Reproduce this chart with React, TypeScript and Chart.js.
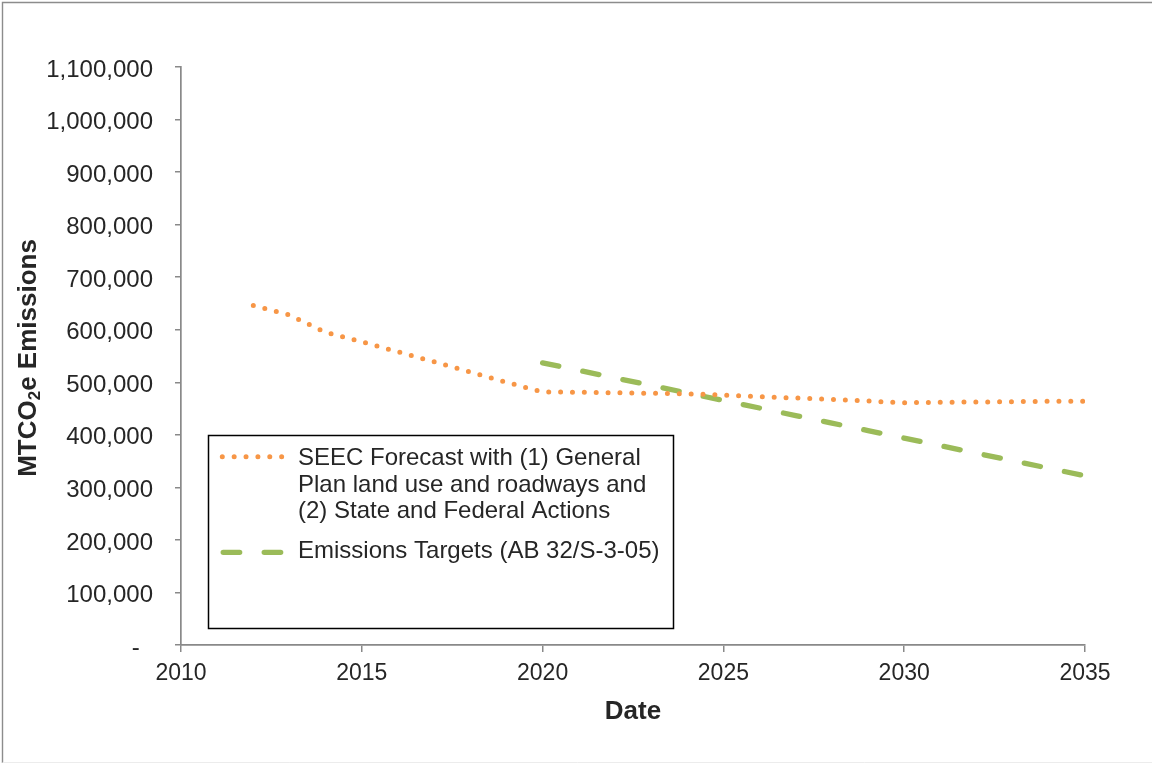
import React, { useEffect, useRef } from "react";
import { Chart, registerables } from "chart.js";

Chart.register(...registerables);

const forecastYears = [2012, 2013, 2014, 2015, 2016, 2017, 2018, 2019, 2020, 2021, 2022, 2023, 2024, 2025, 2026, 2027, 2028, 2029, 2030, 2031, 2032, 2033, 2034, 2035];
const forecastValues = [646000, 628000, 595000, 577000, 558000, 539000, 519500, 500000, 481500, 481000, 480000, 479000, 478000, 475700, 472700, 470000, 467400, 464300, 461000, 462000, 462400, 463000, 463700, 463700];

const targetYears = [2020, 2021, 2022, 2023, 2024, 2025, 2026, 2027, 2028, 2029, 2030, 2031, 2032, 2033, 2034, 2035];
const targetValues = [537000, 522700, 508300, 494000, 479700, 465300, 451000, 436700, 422300, 408000, 393700, 379300, 365000, 350700, 336300, 322000];

const forecastLabel = ["SEEC Forecast with (1) General", "Plan land use and roadways and", "(2) State and Federal Actions"];
const targetLabel = "Emissions Targets (AB 32/S-3-05)";

const xTitle = "Date";
const yTitleParts = ["MTCO", "2", "e Emissions"];

const ORANGE = "#F79646";
const GREEN = "#9BBB59";
const TEXT = "#262626";
const AXIS = "#898989";
const FONT = '"Liberation Sans", Arial, sans-serif';

const decorPlugin = {
  id: "decor",
  beforeDraw(chart: any) {
    const ctx = chart.ctx;
    ctx.save();
    ctx.fillStyle = "#ffffff";
    ctx.fillRect(0, 0, chart.width, chart.height);
    ctx.strokeStyle = "#8c8c8c";
    ctx.lineWidth = 1.4;
    ctx.beginPath();
    ctx.moveTo(2.5, 763);
    ctx.lineTo(2.5, 2.5);
    ctx.lineTo(1152, 2.5);
    ctx.stroke();
    ctx.strokeStyle = "#ececec";
    ctx.lineWidth = 1;
    ctx.beginPath();
    ctx.moveTo(2.5, 762.5);
    ctx.lineTo(1152, 762.5);
    ctx.stroke();
    ctx.restore();
  },
  afterDraw(chart: any) {
    const ctx = chart.ctx;
    const area = chart.chartArea;
    ctx.save();
    // axis titles
    ctx.fillStyle = TEXT;
    ctx.font = `bold 26px ${FONT}`;
    ctx.textAlign = "center";
    ctx.textBaseline = "alphabetic";
    ctx.fillText(xTitle, (area.left + area.right) / 2, 719);

    ctx.save();
    ctx.translate(36, 358);
    ctx.rotate(-Math.PI / 2);
    ctx.textAlign = "left";
    const big = `bold 26px ${FONT}`;
    const small = `bold 17px ${FONT}`;
    ctx.font = big;
    const w0 = ctx.measureText(yTitleParts[0]).width;
    const w2 = ctx.measureText(yTitleParts[2]).width;
    ctx.font = small;
    const w1 = ctx.measureText(yTitleParts[1]).width;
    let x = -(w0 + w1 + w2) / 2;
    ctx.font = big;
    ctx.fillText(yTitleParts[0], x, 0);
    x += w0;
    ctx.font = small;
    ctx.fillText(yTitleParts[1], x, 4);
    x += w1;
    ctx.font = big;
    ctx.fillText(yTitleParts[2], x, 0);
    ctx.restore();

    // legend box
    ctx.fillStyle = "#ffffff";
    ctx.fillRect(208.5, 435.5, 465, 193);
    ctx.strokeStyle = "#000000";
    ctx.lineWidth = 1.5;
    ctx.strokeRect(208.5, 435.5, 465, 193);

    ctx.lineCap = "round";
    ctx.strokeStyle = ORANGE;
    ctx.lineWidth = 5;
    ctx.setLineDash([0, 11.87]);
    ctx.beginPath();
    ctx.moveTo(222.3, 456.7);
    ctx.lineTo(283, 456.7);
    ctx.stroke();

    ctx.strokeStyle = GREEN;
    ctx.lineWidth = 5.3;
    ctx.setLineDash([16.5, 24.5]);
    ctx.beginPath();
    ctx.moveTo(223.2, 552.3);
    ctx.lineTo(281.8, 552.3);
    ctx.stroke();
    ctx.setLineDash([]);

    ctx.fillStyle = TEXT;
    ctx.font = `24px ${FONT}`;
    ctx.textAlign = "left";
    ctx.textBaseline = "alphabetic";
    const baselines = [465, 491.7, 518.3];
    forecastLabel.forEach((t, i) => ctx.fillText(t, 298, baselines[i]));
    ctx.fillText(targetLabel, 298, 558.3);
    ctx.restore();
  },
};

export default function App() {
  const ref = useRef<HTMLCanvasElement | null>(null);
  useEffect(() => {
    if (!ref.current) return;
    const chart = new Chart(ref.current, {
      type: "line",
      data: {
        datasets: [
          {
            label: forecastLabel.join(" "),
            data: forecastYears.map((y, i) => ({ x: y, y: forecastValues[i] })),
            borderColor: ORANGE,
            borderWidth: 5,
            borderDash: [0, 11.87],
            borderCapStyle: "round",
            borderJoinStyle: "round",
            pointRadius: 0,
            tension: 0,
            fill: false,
          },
          {
            label: targetLabel,
            data: targetYears.map((y, i) => ({ x: y, y: targetValues[i] })),
            borderColor: GREEN,
            borderWidth: 5.3,
            borderDash: [16.5, 24.5],
            borderCapStyle: "round",
            borderJoinStyle: "round",
            pointRadius: 0,
            tension: 0,
            fill: false,
          },
        ],
      },
      options: {
        animation: false,
        responsive: false,
        devicePixelRatio: 1,
        layout: { padding: { left: 0, top: 67, right: 67, bottom: 0 } },
        plugins: {
          legend: { display: false },
          tooltip: { enabled: false },
          title: { display: false },
        },
        scales: {
          x: {
            type: "linear",
            min: 2010,
            max: 2035,
            afterFit: (s: any) => {
              s.height = 118;
            },
            ticks: {
              stepSize: 5,
              callback: (v: any) => String(v),
              color: TEXT,
              font: { family: FONT, size: 23 },
              padding: 8,
              maxRotation: 0,
            },
            grid: {
              drawOnChartArea: false,
              drawTicks: true,
              tickLength: 7,
              color: AXIS,
              lineWidth: 1.5,
            },
            border: { display: true, color: AXIS, width: 1.7 },
          },
          y: {
            type: "linear",
            min: 0,
            max: 1100000,
            afterFit: (s: any) => {
              s.width = 181;
            },
            ticks: {
              stepSize: 100000,
              callback: (v: any) => (v === 0 ? "-  " : Number(v).toLocaleString("en-US")),
              color: TEXT,
              font: { family: FONT, size: 24 },
              padding: 22,
              labelOffset: 3,
            },
            grid: {
              drawOnChartArea: false,
              drawTicks: true,
              tickLength: 6,
              color: AXIS,
              lineWidth: 1.5,
            },
            border: { display: true, color: AXIS, width: 1.7 },
          },
        },
      },
      plugins: [decorPlugin],
    } as any);
    return () => chart.destroy();
  }, []);
  return (
    <div style={{ position: "absolute", left: 0, top: 0, width: 1152, height: 763, background: "#fff" }}>
      <canvas ref={ref} width={1152} height={763} style={{ display: "block", width: 1152, height: 763 }} />
    </div>
  );
}
